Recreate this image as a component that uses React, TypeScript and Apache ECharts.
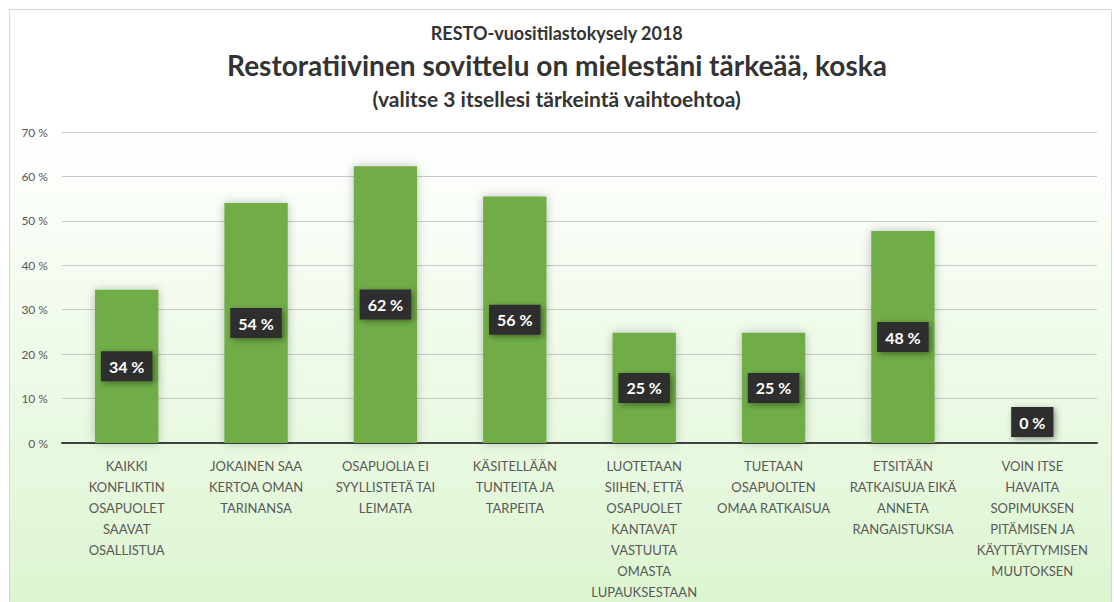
import React, { useEffect, useRef } from "react";
import * as echarts from "echarts";

const supTitle = "RESTO-vuositilastokysely 2018";
const mainTitle = "Restoratiivinen sovittelu on mielestäni tärkeää, koska";
const subTitle = "(valitse 3 itsellesi tärkeintä vaihtoehtoa)";

const categories = [
  "KAIKKI\nKONFLIKTIN\nOSAPUOLET\nSAAVAT\nOSALLISTUA",
  "JOKAINEN SAA\nKERTOA OMAN\nTARINANSA",
  "OSAPUOLIA EI\nSYYLLISTETÄ TAI\nLEIMATA",
  "KÄSITELLÄÄN\nTUNTEITA JA\nTARPEITA",
  "LUOTETAAN\nSIIHEN, ETTÄ\nOSAPUOLET\nKANTAVAT\nVASTUUTA\nOMASTA\nLUPAUKSESTAAN",
  "TUETAAN\nOSAPUOLTEN\nOMAA RATKAISUA",
  "ETSITÄÄN\nRATKAISUJA EIKÄ\nANNETA\nRANGAISTUKSIA",
  "VOIN ITSE\nHAVAITA\nSOPIMUKSEN\nPITÄMISEN JA\nKÄYTTÄYTYMISEN\nMUUTOKSEN",
];
const values = [34.5, 54, 62.3, 55.5, 24.8, 24.8, 47.7, 0];
const labels = ["34 %", "54 %", "62 %", "56 %", "25 %", "25 %", "48 %", "0 %"];

export default function App() {
  const ref = useRef<HTMLDivElement>(null);
  useEffect(() => {
    document.body.style.margin = "0";
    document.body.style.overflow = "hidden";
    const chart = echarts.init(ref.current!, undefined, { renderer: "svg" });
    const font = "Lato, 'Open Sans', sans-serif";
    chart.setOption({
      animation: false,
      graphic: [
        {
          type: "rect",
          z: -10,
          silent: true,
          shape: { x: 9.5, y: 9.5, width: 1102, height: 600 },
          style: {
            fill: new echarts.graphic.LinearGradient(0, 0, 0, 1, [
              { offset: 0, color: "#ffffff" },
              { offset: 0.2, color: "#ffffff" },
              { offset: 1, color: "#dcf5d0" },
            ]),
            stroke: "#d6d6d6",
            lineWidth: 1,
          },
        },
        {
          type: "text",
          left: "center",
          top: 24,
          style: { text: supTitle, font: `bold 18px ${font}`, fill: "#333333" },
        },
        {
          type: "text",
          left: "center",
          top: 51,
          style: { text: mainTitle, font: `bold 28px ${font}`, fill: "#333333" },
        },
        {
          type: "text",
          left: "center",
          top: 88,
          style: { text: subTitle, font: `bold 21px ${font}`, fill: "#333333" },
        },
      ],
      grid: { left: 62, right: 17, top: 132, bottom: 157, containLabel: false },
      xAxis: {
        type: "category",
        data: categories,
        axisLine: { lineStyle: { color: "#404040", width: 2 } },
        axisTick: { show: false },
        axisLabel: {
          interval: 0,
          color: "#595959",
          fontFamily: font,
          fontSize: 13,
          lineHeight: 21,
          margin: 12,
          align: "center",
        },
      },
      yAxis: {
        type: "value",
        min: 0,
        max: 70,
        interval: 10,
        axisLine: { show: false },
        axisTick: { show: false },
        splitLine: { lineStyle: { color: "#c9c9c9", width: 1 } },
        axisLabel: {
          formatter: (v: number) => `${v} %`,
          color: "#595959",
          fontFamily: font,
          fontSize: 12,
          margin: 14,
        },
      },
      series: [
        {
          type: "bar",
          barWidth: "49%",
          data: values.map((v) => ({
            value: v,
            label:
              v === 0
                ? { position: "top", distance: 6 }
                : { position: "inside" },
          })),
          itemStyle: {
            color: "#70ad47",
            shadowBlur: 10,
            shadowColor: "rgba(0,0,0,0.25)",
          },
          label: {
            show: true,
            formatter: (p: any) => labels[p.dataIndex],
            color: "#ffffff",
            fontFamily: font,
            fontWeight: "bold",
            fontSize: 16,
            backgroundColor: "#2e2e2e",
            padding: [7, 8],
            shadowBlur: 6,
            shadowColor: "rgba(0,0,0,0.4)",
            shadowOffsetX: 2,
            shadowOffsetY: 2,
          },
        },
      ],
    });
    return () => chart.dispose();
  }, []);
  return <div ref={ref} style={{ width: 1114, height: 602 }} />;
}
